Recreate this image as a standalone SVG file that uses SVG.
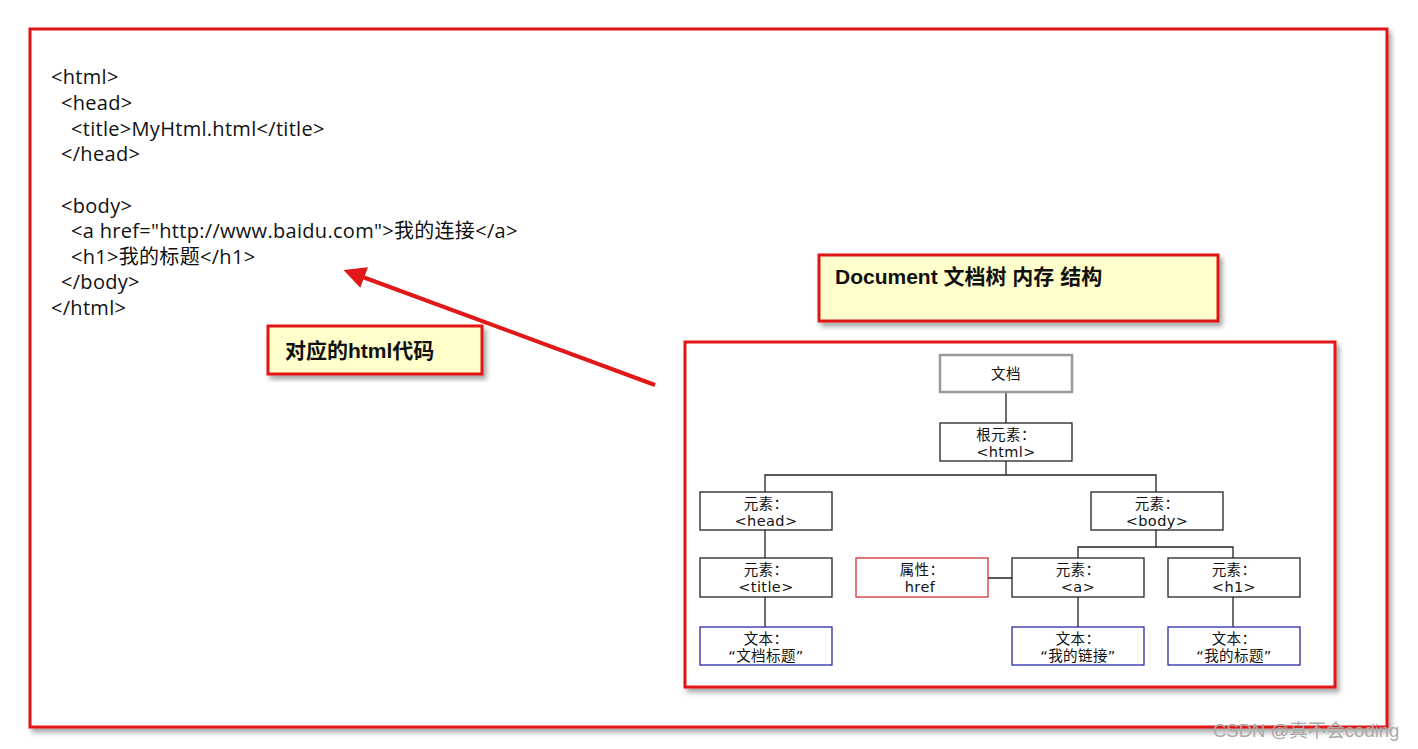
<svg xmlns="http://www.w3.org/2000/svg" width="1418" height="749" viewBox="0 0 1418 749">
<defs>
<filter id="sh" x="-5%" y="-5%" width="115%" height="120%">
<feDropShadow dx="3" dy="4" stdDeviation="2.5" flood-color="#000" flood-opacity="0.35"/>
</filter>
<marker id="ah" viewBox="0 0 10 10" refX="2" refY="5" markerWidth="7" markerHeight="5.5" orient="auto" markerUnits="strokeWidth">
<path d="M0,0 L10,5 L0,10 z" fill="#e01818"/>
</marker>
<style>
.code{font-family:"Open Sans","Noto Sans CJK SC",sans-serif;font-size:20px;letter-spacing:0.3px;fill:#111}
.call{font-family:"Liberation Sans","Noto Sans CJK SC",sans-serif;font-size:21px;font-weight:bold;fill:#111}
.nt{font-family:"DejaVu Sans","Noto Sans CJK SC",sans-serif;font-size:14.5px;letter-spacing:0.4px;fill:#111;text-anchor:middle}
.box{fill:#fff;stroke:#222;stroke-width:1.3}
.boxb{fill:#fff;stroke:#2a2aa8;stroke-width:1.3}
.boxr{fill:#fff;stroke:#d0303a;stroke-width:1.3}
.boxg{fill:#fff;stroke:#999;stroke-width:2.5}
.redf{fill:#fff;stroke:#e01818;stroke-width:3}
.note{fill:#ffffcc;stroke:#e01818;stroke-width:3}
.ln{stroke:#222;stroke-width:1.3;fill:none}
</style>
</defs>
<rect width="1418" height="749" fill="#fff"/>
<g id="outer"><rect class="redf" x="30" y="29" width="1357" height="698" filter="url(#sh)"/></g>
<g id="code">
<text class="code" x="51" y="84">&lt;html&gt;</text>
<text class="code" x="61" y="110">&lt;head&gt;</text>
<text class="code" x="71" y="136">&lt;title&gt;MyHtml.html&lt;/title&gt;</text>
<text class="code" x="61" y="161">&lt;/head&gt;</text>
<text class="code" x="61" y="213">&lt;body&gt;</text>
<text class="code" x="71" y="238">&lt;a href="http://www.baidu.com"&gt;我的连接&lt;/a&gt;</text>
<text class="code" x="71" y="264">&lt;h1&gt;我的标题&lt;/h1&gt;</text>
<text class="code" x="61" y="289">&lt;/body&gt;</text>
<text class="code" x="51" y="315">&lt;/html&gt;</text>
</g>
<g id="note-code"><rect class="note" x="268" y="326" width="214" height="48" filter="url(#sh)"/>
<text class="call" x="285" y="358">对应的html代码</text></g>
<g id="note-doc"><rect class="note" x="819" y="255" width="399" height="66" filter="url(#sh)"/>
<text class="call" x="835" y="284">Document 文档树 内存 结构</text></g>
<g id="tree-frame"><rect class="redf" x="685" y="342" width="650" height="345" filter="url(#sh)"/></g>
<g id="connectors">
<line x1="655" y1="385" x2="360" y2="276" stroke="#e01818" stroke-width="4" marker-end="url(#ah)"/>
<path class="ln" d="M1006,392V423M1006,461V475M765,492V475H1156V492M765,530V558M1156,530V547M1078,558V547H1233V558M988,578H1012M765,597V627M1078,597V627M1233,597V627"/>
</g>
<g id="n-doc"><rect class="boxg" x="940" y="355" width="132" height="37"/><text class="nt" x="1006" y="379">文档</text></g>
<g id="n-html"><rect class="box" x="940" y="423" width="132" height="38"/><text class="nt" x="1006" y="440">根元素：</text><text class="nt" x="1006" y="457">&lt;html&gt;</text></g>
<g id="n-head"><rect class="box" x="700" y="492" width="132" height="38"/><text class="nt" x="766" y="509">元素：</text><text class="nt" x="766" y="526">&lt;head&gt;</text></g>
<g id="n-body"><rect class="box" x="1091" y="492" width="132" height="38"/><text class="nt" x="1157" y="509">元素：</text><text class="nt" x="1157" y="526">&lt;body&gt;</text></g>
<g id="n-title"><rect class="box" x="700" y="558" width="132" height="39"/><text class="nt" x="766" y="575">元素：</text><text class="nt" x="766" y="592">&lt;title&gt;</text></g>
<g id="n-href"><rect class="boxr" x="856" y="558" width="132" height="39"/><text class="nt" x="922" y="575">属性：</text><text class="nt" x="920" y="592">href</text></g>
<g id="n-a"><rect class="box" x="1012" y="558" width="132" height="39"/><text class="nt" x="1078" y="575">元素：</text><text class="nt" x="1078" y="592">&lt;a&gt;</text></g>
<g id="n-h1"><rect class="box" x="1168" y="558" width="132" height="39"/><text class="nt" x="1234" y="575">元素：</text><text class="nt" x="1234" y="592">&lt;h1&gt;</text></g>
<g id="n-t1"><rect class="boxb" x="700" y="627" width="132" height="38"/><text class="nt" x="766" y="644">文本：</text><text class="nt" x="766" y="661">“文档标题”</text></g>
<g id="n-t2"><rect class="boxb" x="1012" y="627" width="132" height="38"/><text class="nt" x="1078" y="644">文本：</text><text class="nt" x="1078" y="661">“我的链接”</text></g>
<g id="n-t3"><rect class="boxb" x="1168" y="627" width="132" height="38"/><text class="nt" x="1234" y="644">文本：</text><text class="nt" x="1234" y="661">“我的标题”</text></g>
<text x="1213" y="737" font-family="Liberation Sans,Noto Sans CJK SC,sans-serif" font-size="18.5" fill="#aaa">CSDN @真不会coding</text>
</svg>
